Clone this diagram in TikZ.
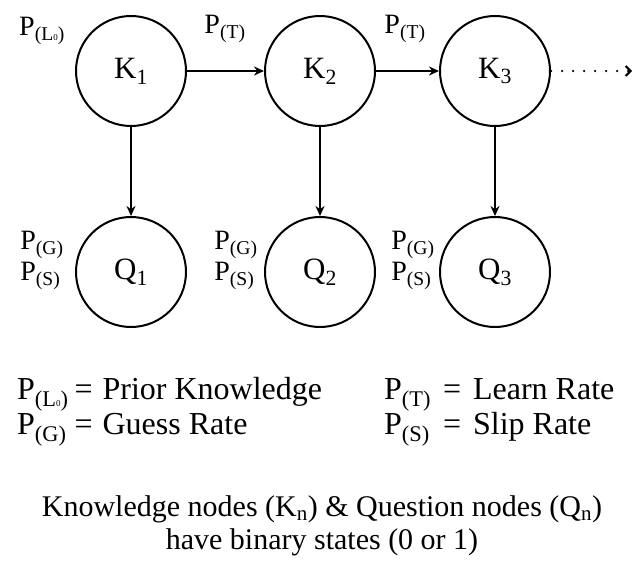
\documentclass[tikz,border=0pt]{standalone}
\usepackage{fontspec}
\setmainfont{Liberation Serif}
\usepackage{tikz}
\usetikzlibrary{arrows.meta,positioning}
\newcommand{\pr}[1]{P\textsubscript{(#1)}}
\newcommand{\lzero}{L{\fontsize{9}{9}\selectfont 0}}

\begin{document}
\begin{tikzpicture}[x=1pt,y=-1pt,>={Stealth[length=10pt,width=9pt]},
  state/.style={circle,draw,line width=2pt,minimum size=110pt,inner sep=0pt,font=\fontsize{31}{33}\selectfont},
  lbl/.style={font=\fontsize{28}{31}\selectfont,align=left,inner sep=0pt},
  link/.style={->,line width=2pt}]
  \useasboundingbox (0,0) rectangle (635,562);
  \foreach \i/\x in {1/131,2/320,3/495} {
    \node[state] (k\i) at (\x,71) {K\textsubscript{\i}};
    \node[state] (q\i) at (\x,272) {Q\textsubscript{\i}};
    \draw[link] (k\i) -- (q\i);
  }
  \draw[link] (k1) -- (k2);
  \draw[link] (k2) -- (k3);
  \coordinate (more) at (632,71);
  \draw[line width=2.5pt,dash pattern=on 0pt off 11pt,line cap=round,-{Straight Barb[length=5pt,width=10pt,line width=2pt]}] (k3) -- (more);
  % parameters
  \node[lbl] (pl) at (42,31) {\pr{\lzero}};
  \node[lbl] (pt1) at (225,29) {\pr{T}};
  \node[lbl] (pt2) at (405,29) {\pr{T}};
  \foreach \i/\x in {1/42,2/236,3/413}
    \node[lbl] (gs\i) at (\x,260) {\pr{G}\\\pr{S}};
  % legend
  \node[anchor=north west,inner sep=0pt,font=\fontsize{32}{33}\selectfont] (legend) at (17,376) {%
    \begin{tabular}{@{}l@{\hspace{6pt}=\hspace{10pt}}l@{\hspace{62pt}}l@{\hspace{12pt}=\hspace{12pt}}l@{}}
      \pr{\lzero} & Prior Knowledge & \pr{T} & Learn Rate\\
      \pr{G} & Guess Rate & \pr{S} & Slip Rate
    \end{tabular}};
  \node[align=center,inner sep=0pt,font=\fontsize{30}{33}\selectfont] (note) at (322,526)
    {Knowledge nodes (K\textsubscript{n}) \& Question nodes (Q\textsubscript{n})\\ have binary states (0 or 1)};
\end{tikzpicture}
\end{document}
